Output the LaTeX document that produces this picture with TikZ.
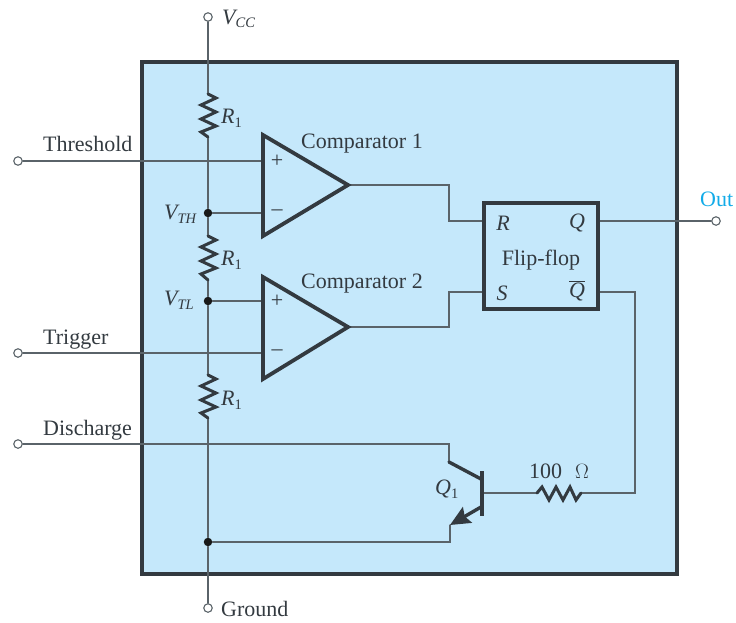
\documentclass[tikz,border=0pt]{standalone}
\usepackage{fontspec}
\setmainfont{Liberation Serif}
\usetikzlibrary{arrows.meta}
\definecolor{panel}{HTML}{C5E8FB}
\definecolor{ink}{HTML}{333A40}
\definecolor{wire}{HTML}{5A6369}
\definecolor{outblue}{HTML}{12ABE8}
\newcommand{\subsc}[1]{\raisebox{-3.6pt}{\fontsize{14.5pt}{15pt}\selectfont #1}}
\newcommand{\resv}[1]{% vertical resistor: #1 = name, from (#1a) to (#1b)
  \draw[res] (#1a) -- ++(8,4) -- ++(-15,7) -- ++(15,7) -- ++(-15,7) -- ++(15,7) -- ++(-15,6) -- (#1b);}
\tikzset{
  wireline/.style={draw=wire,line width=1.1pt,line cap=round,line join=miter},
  res/.style={draw=ink,line width=3pt,line join=miter,line cap=round},
  heavy/.style={draw=ink,line width=3.8pt,line join=miter},
  term/.style={circle,draw=wire,fill=white,line width=1.1pt,minimum size=8.5pt,inner sep=0pt},
  junction/.style={circle,fill=black!90,minimum size=8.5pt,inner sep=0pt},
  lab/.style={text=ink,font=\fontsize{22pt}{24pt}\selectfont,inner sep=0pt},
  sym/.style={text=ink,font=\fontsize{22pt}{24pt}\selectfont\itshape,inner sep=0pt},
}
\begin{document}
\begin{tikzpicture}[x=1pt,y=-1pt]
\useasboundingbox (0,0) rectangle (736,622);
\draw[heavy,fill=panel] (142,62) rectangle (677,574);

% terminals and junctions
\node[term] (vcc) at (208,17) {};
\node[term] (gnd) at (208,608) {};
\node[term] (thr) at (18,161) {};
\node[term] (trg) at (18,353) {};
\node[term] (dis) at (18,444) {};
\node[term] (out) at (716,221) {};
\node[junction] (vth) at (208,213) {};
\node[junction] (vtl) at (208,301) {};
\node[junction] (jg) at (208,542) {};

% named points
\coordinate (r1a) at (208,94);  \coordinate (r1b) at (208,137);
\coordinate (r2a) at (208,236); \coordinate (r2b) at (208,280);
\coordinate (r3a) at (208,375); \coordinate (r3b) at (208,418);
\coordinate (c1a) at (263,135); \coordinate (c1b) at (263,236); \coordinate (c1o) at (348,185);
\coordinate (c2a) at (263,277); \coordinate (c2b) at (263,379); \coordinate (c2o) at (348,327);
\coordinate (c1p) at (263,161); \coordinate (c1m) at (263,213);
\coordinate (c2p) at (263,301); \coordinate (c2m) at (263,353);
\coordinate (ffr) at (484,221); \coordinate (ffs) at (484,292);
\coordinate (ffq) at (598,221); \coordinate (ffn) at (598,292);
\coordinate (base) at (482,493);
\coordinate (col) at (449,462); \coordinate (em) at (450,525);
\coordinate (r4a) at (537,493); \coordinate (r4b) at (581,493);

% wires
\draw[wireline] (vcc) -- (r1a);
\draw[wireline] (r1b) -- (vth) -- (r2a);
\draw[wireline] (r2b) -- (vtl) -- (r3a);
\draw[wireline] (r3b) -- (jg) -- (gnd);
\draw[wireline] (thr) -- (c1p);
\draw[wireline] (vth) -- (c1m);
\draw[wireline] (vtl) -- (c2p);
\draw[wireline] (trg) -- (c2m);
\draw[wireline] (c1o) -| (449,221) -- (ffr);
\draw[wireline] (c2o) -| (449,292) -- (ffs);
\draw[wireline] (ffq) -- (out);
\draw[wireline] (ffn) -| (635,493) -- (r4b);
\draw[wireline] (r4a) -- (base);
\draw[wireline] (dis) -| (col);
\draw[wireline] (jg) -| (em);

% resistors
\resv{r1}\resv{r2}\resv{r3}
\draw[res] (r4a) -- ++(5,-6) -- ++(7,13) -- ++(7,-13) -- ++(7,13) -- ++(7,-13) -- ++(6,13) -- (r4b);

% comparators
\draw[heavy] (c1a) -- (c1o) -- (c1b) -- cycle;
\draw[heavy] (c2a) -- (c2o) -- (c2b) -- cycle;

% flip-flop
\node[heavy,fill=panel,minimum width=114pt,minimum height=106pt,inner sep=0pt] (ff) at (541,256) {};

% transistor
\draw[heavy,line width=3.4pt] (482,471) -- (482,516);
\draw[res,line width=3.4pt] (col) -- (481,479);
\draw[res,line width=3.4pt,-{Stealth[length=20pt,width=18pt,inset=3pt]}] (481,507) -- (em);

% labels
\node[sym,anchor=west] (lvcc) at (222,19) {V\subsc{CC}};
\node[lab,anchor=west] (lgnd) at (221,609) {Ground};
\node[lab,anchor=west] (lthr) at (43,144) {Threshold};
\node[lab,anchor=west] (ltrg) at (43,340) {Trigger};
\node[lab,anchor=west] (ldis) at (43,430) {Discharge};
\node[lab,anchor=west,text=outblue] (lout) at (700,199) {Out};
\node[sym,anchor=west] (lr1) at (221,118) {R\subsc{\upshape 1}};
\node[sym,anchor=west] (lr2) at (221,260) {R\subsc{\upshape 1}};
\node[sym,anchor=west] (lr3) at (221,400) {R\subsc{\upshape 1}};
\node[sym,anchor=west] (lvth) at (164,214) {V\subsc{TH}};
\node[sym,anchor=west] (lvtl) at (164,300) {V\subsc{TL}};
\node[lab,anchor=west] (lc1) at (301,144) {Comparator 1};
\node[lab,anchor=west] (lc2) at (301,284) {Comparator 2};
\node[lab] (p1) at (277,161) {+};
\node[lab] (m1) at (277,213) {–};
\node[lab] (p2) at (277,301) {+};
\node[lab] (m2) at (277,353) {–};
\node[sym] (lR) at (503,223) {R};
\node[sym] (lQ) at (577,223) {Q};
\node[lab] (lff) at (541,260) {Flip-flop};
\node[sym] (lS) at (502,293) {S};
\node[sym] (lQb) at (577,291) {$\overline{\mbox{\itshape Q}}$};
\node[sym,anchor=west] (lq1) at (435,489) {Q\subsc{\upshape 1}};
\node[lab] (l100) at (559,471) {100\,\, \(\Omega\)};
\end{tikzpicture}
\end{document}
